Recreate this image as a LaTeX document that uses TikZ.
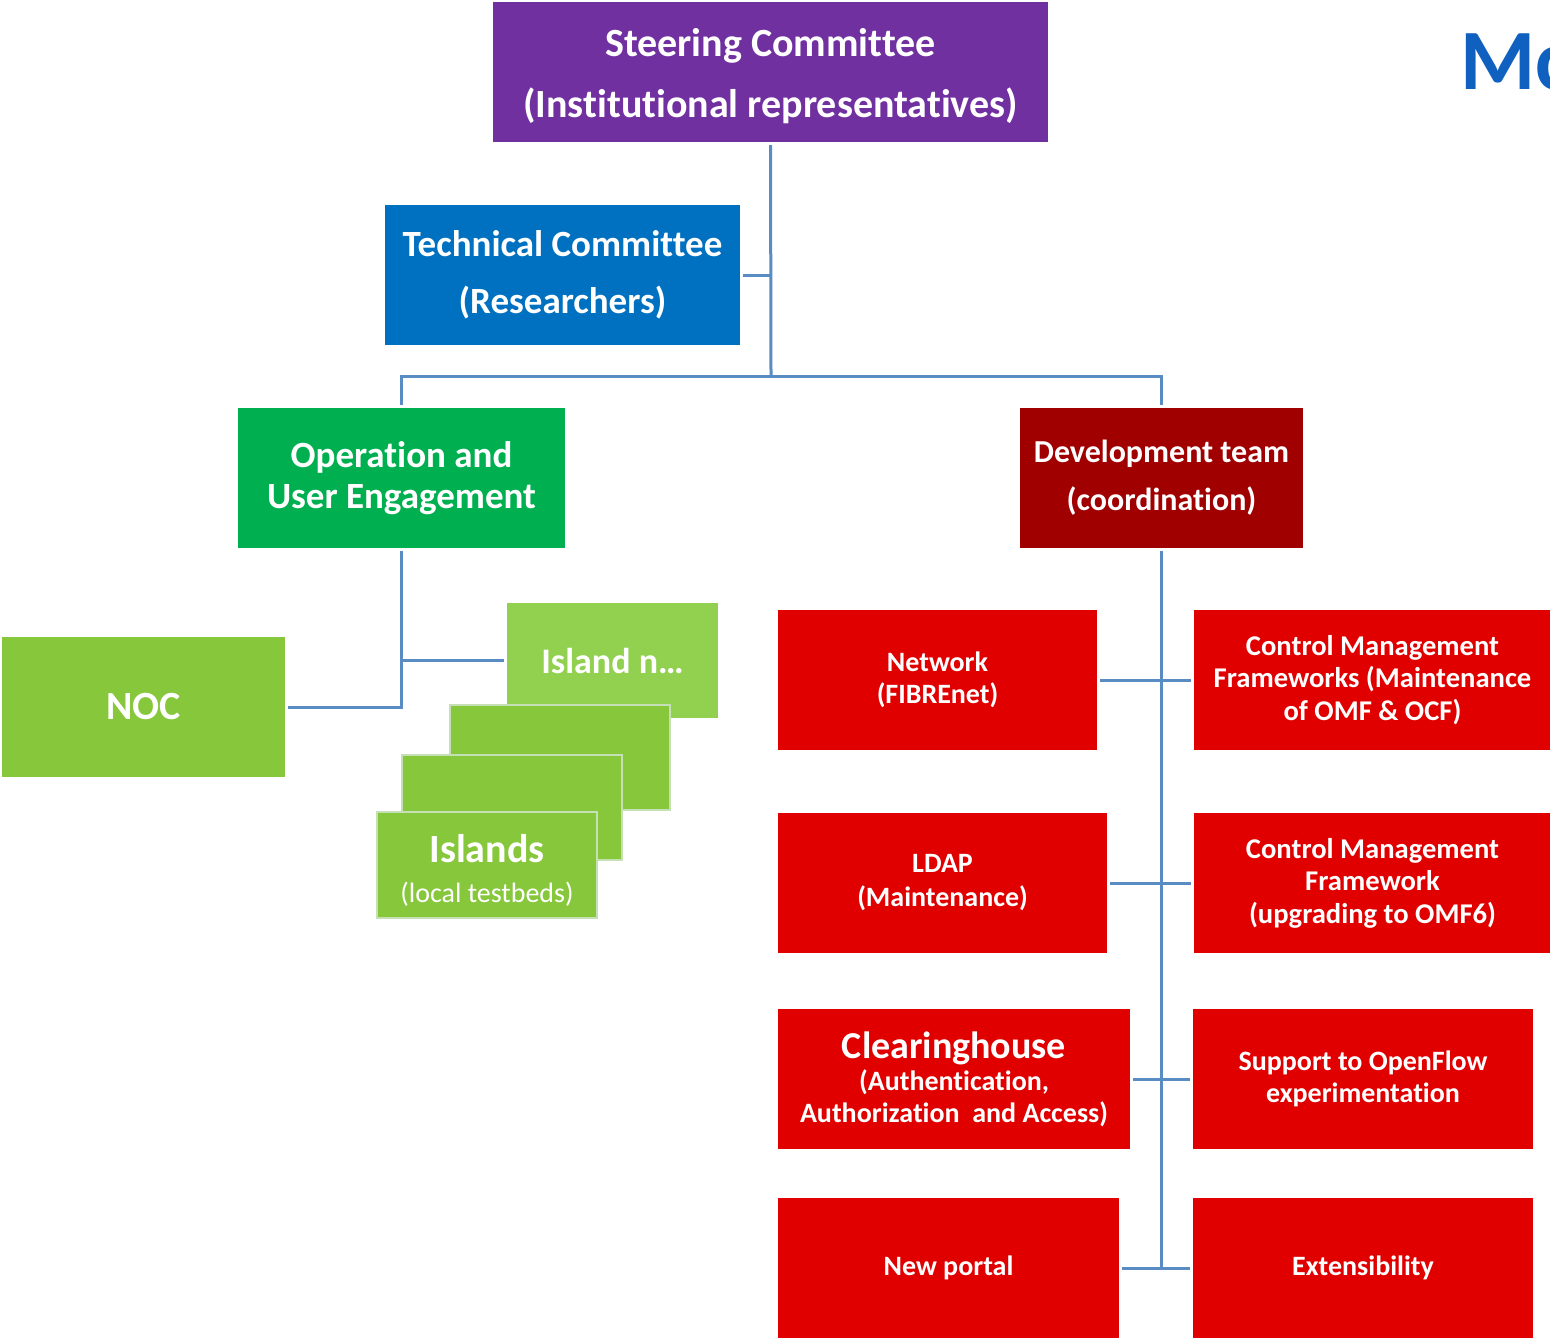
\documentclass[tikz,border=0pt]{standalone}
\usepackage{fontspec}
\setmainfont{Carlito}[Ligatures={NoCommon}]
\definecolor{cpurple}{HTML}{7030A0}
\definecolor{cblue}{HTML}{0070C0}
\definecolor{cgreen}{HTML}{00B050}
\definecolor{cdred}{HTML}{A00000}
\definecolor{cred}{HTML}{E00000}
\definecolor{clime}{HTML}{86C73B}
\definecolor{clight}{HTML}{92D050}
\definecolor{cedge}{HTML}{C5E0B4}
\definecolor{cline}{HTML}{5A8CC4}
\definecolor{ctitle}{HTML}{1060C0}
\newcommand{\fs}[2]{\fontsize{#1}{#2}\selectfont}
\tikzset{
  box/.style={rectangle, inner sep=0pt, outer sep=1.5pt, text=white, align=center, font=\bfseries},
  conn/.style={draw=cline, line width=1.5pt},
}
\begin{document}
\begin{tikzpicture}[x=0.5pt,y=-0.5pt]
\clip (0,0) rectangle (1550,1340);
\fill[white] (0,0) rectangle (1550,1340);
% title fragment
\node[anchor=west, inner sep=0pt, text=ctitle, font=\bfseries\fs{43}{43}] (title) at (1460,62) {Mc};
% top
\node[box, fill=cpurple, minimum width=277.5pt, minimum height=70pt, font=\bfseries\fs{20}{30.5}] (steer) at (770.5,72) {\rule{0pt}{18pt}Steering Committee\\(Institutional representatives)};
\node[box, fill=cblue, minimum width=177.5pt, minimum height=70pt, font=\bfseries\fs{18.5}{28.5}] (tech) at (562.5,275) {Technical Committee\\(Researchers)};
\node[box, fill=cgreen, minimum width=163.5pt, minimum height=70pt, font=\bfseries\fs{18.5}{20.5}] (op) at (401.5,478) {Operation and\\User Engagement};
\node[box, fill=cdred, minimum width=141.5pt, minimum height=70pt, font=\bfseries\fs{16}{24}] (dev) at (1161.5,478) {Development team\\(coordination)};
% left branch
\node[box, fill=clime, minimum width=141.5pt, minimum height=70pt, font=\bfseries\fs{20}{20}] (noc) at (143.5,707) {NOC};
\node[box, fill=clight, minimum width=105.5pt, minimum height=57.5pt, font=\bfseries\fs{18}{18}] (islandn) at (612.5,660.5) {Island n\dots};
\node[box, fill=clime, draw=cedge, line width=1pt, minimum width=110pt, minimum height=52.5pt] (stacka) at (560,757.5) {};
\node[box, fill=clime, draw=cedge, line width=1pt, minimum width=110pt, minimum height=52.5pt] (stackb) at (512,807.5) {};
\node[box, fill=clime, draw=cedge, line width=1pt, minimum width=110pt, minimum height=53pt] (islands) at (487,865) {{\fs{20}{21}\rule{0pt}{19pt}Islands}\\[8pt]{\mdseries\fs{14}{16}(local testbeds)}};
% right branch
\node[box, fill=cred, minimum width=159.5pt, minimum height=70pt, font=\bfseries\fs{14}{16}] (net) at (937.5,680) {Network\\(FIBREnet)};
\node[box, fill=cred, minimum width=178.5pt, minimum height=70pt, font=\bfseries\fs{14.3}{16.2}] (cmfa) at (1372.5,680) {Control Management\\Frameworks (Maintenance\\of OMF \& OCF)};
\node[box, fill=cred, minimum width=164.5pt, minimum height=70pt, font=\bfseries\fs{14}{17}] (ldap) at (942.5,883) {LDAP\\(Maintenance)};
\node[box, fill=cred, minimum width=178.5pt, minimum height=70pt, font=\bfseries\fs{14.3}{16.2}] (cmfb) at (1372.5,883) {Control Management\\Framework\\(upgrading to OMF6)};
\node[box, fill=cred, minimum width=176pt, minimum height=70pt, font=\bfseries\fs{14}{16}] (clear) at (954,1079) {{\fs{19}{19}Clearinghouse}\\(Authentication,\\Authorization\ \ and Access)};
\node[box, fill=cred, minimum width=170pt, minimum height=70pt, font=\bfseries\fs{14}{16}] (supp) at (1363,1079) {Support to OpenFlow\\experimentation};
\node[box, fill=cred, minimum width=170.5pt, minimum height=70pt, font=\bfseries\fs{14}{16}] (portal) at (948.5,1268) {New portal};
\node[box, fill=cred, minimum width=170pt, minimum height=70pt, font=\bfseries\fs{14}{16}] (ext) at (1363,1268) {Extensibility};
% connectors
\coordinate (bus) at (771,376);
\draw[conn] (steer.south) -- (bus);
\draw[conn] (tech.east) -- (steer.south |- tech.east);
\draw[conn] (op.north) |- (bus) -| (dev.north);
\draw[conn] (op.south) |- (noc.east);
\draw[conn] (op.south |- islandn.west) -- (islandn.west);
\draw[conn] (dev.south) -- (dev.south |- portal.east);
\draw[conn] (net.east) -- (cmfa.west);
\draw[conn] (ldap.east) -- (cmfb.west);
\draw[conn] (clear.east) -- (supp.west);
\draw[conn] (portal.east) -- (ext.west);
\end{tikzpicture}
\end{document}
